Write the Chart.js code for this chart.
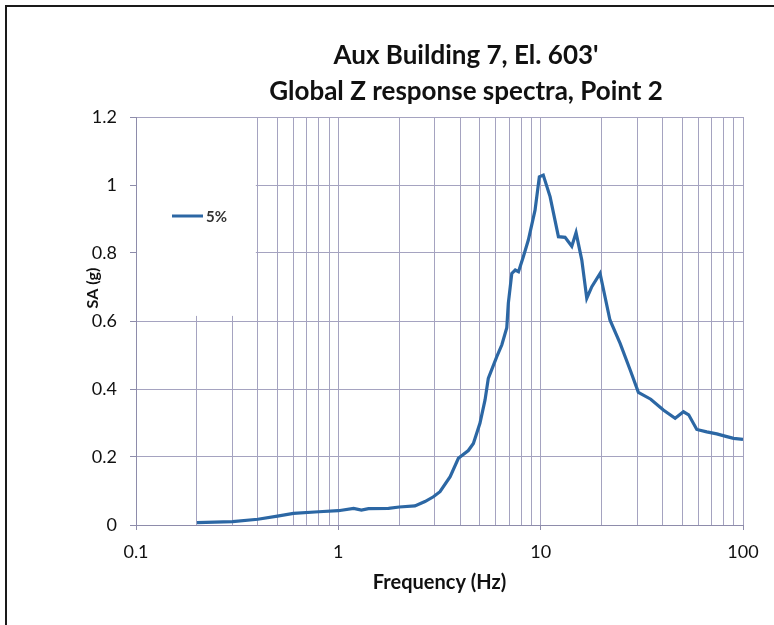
<!DOCTYPE html>
<html>
<head>
<meta charset="utf-8">
<script src="https://cdn.jsdelivr.net/npm/chart.js@4/dist/chart.umd.min.js"></script>
<style>
  html, body { margin: 0; padding: 0; background: #fff; width: 774px; height: 625px; overflow: hidden; }
  #frame { position: absolute; left: 5px; top: 5px; width: 800px; height: 700px; border: 2px solid #1a1a1a; box-sizing: border-box; }
  #wrap { position: absolute; left: 0; top: 0; width: 774px; height: 625px; }
</style>
</head>
<body>
<div id="frame"></div>
<div id="wrap"><canvas id="c" width="774" height="625"></canvas></div>
<script>
const titleLines = ["Aux Building 7, El. 603'", "Global Z response spectra, Point 2"];
const xAxisTitle = "Frequency (Hz)";
const yAxisTitle = "SA (g)";
const seriesName = "5%";

const freqHz = [0.2, 0.3, 0.4, 0.5, 0.6, 0.8, 1.0, 1.19, 1.3, 1.41, 1.77, 2.0, 2.39, 2.68, 2.95, 3.18, 3.57, 3.92, 4.39, 4.65,
  5.01, 5.31, 5.51, 6.07, 6.43, 6.8, 6.92, 7.2, 7.49, 7.77, 8.21, 8.69, 9.38, 9.85, 10.3, 11.13, 12.24, 13.2, 14.25, 14.96,
  15.97, 16.9, 17.9, 19.66, 22.0, 24.7, 27.7, 30.4, 35.0, 40.4, 46.2, 50.8, 53.9, 59.1, 66.2, 74.2, 83.2, 89.8, 100];
const saG = [0.007, 0.010, 0.017, 0.026, 0.034, 0.039, 0.042, 0.049, 0.044, 0.048, 0.049, 0.053, 0.056, 0.069, 0.083, 0.098, 0.142, 0.196, 0.219, 0.24,
  0.299, 0.368, 0.431, 0.495, 0.53, 0.58, 0.652, 0.74, 0.75, 0.745, 0.789, 0.838, 0.926, 1.024, 1.029, 0.966, 0.848, 0.846, 0.82, 0.86,
  0.779, 0.667, 0.701, 0.74, 0.603, 0.534, 0.456, 0.39, 0.37, 0.338, 0.314, 0.333, 0.324, 0.281, 0.274, 0.268, 0.26, 0.255, 0.252];

const xMajorTicks = [0.1, 1, 10, 100];
const xTickLabels = ["0.1", "1", "10", "100"];
const xGridTicks = [0.1, 0.2, 0.3, 0.4, 0.5, 0.6, 0.7, 0.8, 0.9,
  1, 2, 3, 4, 5, 6, 7, 8, 9,
  10, 20, 30, 40, 50, 60, 70, 80, 90, 100];
const yTickValues = [0, 0.2, 0.4, 0.6, 0.8, 1.0, 1.2];
const yTickLabels = ["0", "0.2", "0.4", "0.6", "0.8", "1", "1.2"];

const FONT = "Lato, 'Open Sans', sans-serif";
const gridColor = "#a5a3c0";
const axisColor = "#8e8cab";
const lineColor = "#2c67a4";

const overlay = {
  id: "overlay",
  beforeDatasetsDraw(chart) {
    const { ctx, chartArea: a, scales: { x, y } } = chart;
    const r = x.getPixelForValue(0.4) - 2;
    const b = y.getPixelForValue(0.615);
    ctx.save();
    ctx.fillStyle = "#ffffff";
    ctx.fillRect(a.left + 1, a.top + 1, r - a.left - 1, b - a.top - 1);
    ctx.restore();
  },
  afterDraw(chart) {
    const { ctx, chartArea: a } = chart;
    ctx.save();
    // legend
    const ly = a.top + 99;
    ctx.strokeStyle = lineColor;
    ctx.lineWidth = 3;
    ctx.beginPath();
    ctx.moveTo(a.left + 36, ly);
    ctx.lineTo(a.left + 67, ly);
    ctx.stroke();
    ctx.fillStyle = "#333";
    ctx.font = "bold 15px " + FONT;
    ctx.textAlign = "left";
    ctx.textBaseline = "middle";
    ctx.fillText(seriesName, a.left + 70, ly + 1);
    // title
    ctx.fillStyle = "#111";
    ctx.font = "bold 26px " + FONT;
    ctx.textAlign = "center";
    ctx.fillText(titleLines[0], 466, 56);
    ctx.fillText(titleLines[1], 466, 92);
    // y axis title
    ctx.font = "bold 16px " + FONT;
    ctx.translate(93, 288);
    ctx.rotate(-Math.PI / 2);
    ctx.fillText(yAxisTitle, 0, 0);
    ctx.restore();
  }
};

const data = freqHz.map((f, i) => ({ x: f, y: saG[i] }));

new Chart(document.getElementById("c"), {
  type: "line",
  data: {
    datasets: [{
      label: seriesName,
      data: data,
      borderColor: lineColor,
      backgroundColor: lineColor,
      borderWidth: 3.2,
      pointRadius: 0,
      tension: 0,
      fill: false
    }]
  },
  options: {
    responsive: false,
    animation: false,
    devicePixelRatio: 1,
    layout: { padding: { left: 86, top: 117, right: 31, bottom: 26 } },
    plugins: { legend: { display: false }, title: { display: false }, tooltip: { enabled: false } },
    scales: {
      x: {
        type: "logarithmic",
        min: 0.1,
        max: 100,
        afterBuildTicks: (s) => { s.ticks = xGridTicks.map(v => ({ value: v })); },
        afterFit: (s) => { s.height = 74; },
        ticks: {
          autoSkip: false,
          maxRotation: 0,
          padding: 11,
          color: "#111",
          font: { family: FONT, size: 18 },
          callback: (v) => {
            const i = xMajorTicks.findIndex(m => Math.abs(m - v) < 1e-9);
            return i >= 0 ? xTickLabels[i] : "";
          }
        },
        grid: {
          color: gridColor,
          lineWidth: 1,
          tickLength: 5,
          tickColor: (c) => (c.tick && xMajorTicks.some(m => Math.abs(m - c.tick.value) < 1e-9)) ? axisColor : "rgba(0,0,0,0)"
        },
        border: { color: axisColor, width: 1 },
        title: { display: true, text: xAxisTitle, color: "#111", font: { family: FONT, size: 20, weight: "bold" }, padding: 4 }
      },
      y: {
        min: 0,
        max: 1.2,
        afterBuildTicks: (s) => { s.ticks = yTickValues.map(v => ({ value: v })); },
        afterFit: (s) => { s.width = 50; },
        ticks: {
          padding: 13,
          color: "#111",
          font: { family: FONT, size: 18 },
          callback: (v) => {
            const i = yTickValues.findIndex(m => Math.abs(m - v) < 1e-9);
            return i >= 0 ? yTickLabels[i] : "";
          }
        },
        grid: { color: gridColor, lineWidth: 1, tickLength: 6, tickColor: axisColor },
        border: { color: axisColor, width: 1 },
        title: { display: false }
      }
    }
  },
  plugins: [overlay]
});
</script>
</body>
</html>
